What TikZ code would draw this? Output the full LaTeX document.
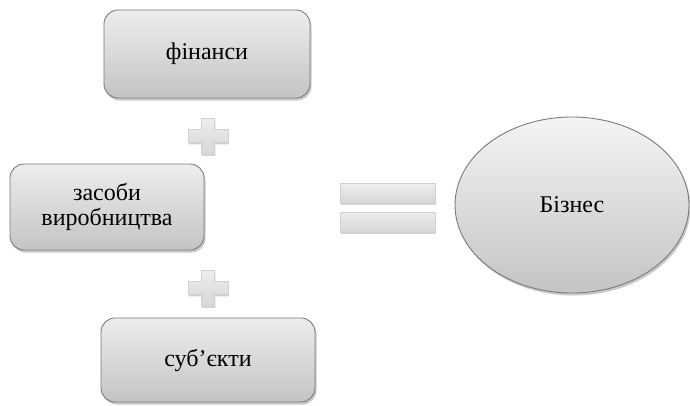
\documentclass[tikz,border=0pt]{standalone}
\usepackage{fontspec}
\setmainfont{Liberation Serif}
\newfontfamily\tnr{Liberation Serif}
\usetikzlibrary{shapes.geometric,shadows}
\definecolor{boxtop}{HTML}{EDEDED}
\definecolor{boxbot}{HTML}{C4C4C4}
\definecolor{boxline}{HTML}{7A7A7A}
\definecolor{signtop}{HTML}{EEEEEE}
\definecolor{signbot}{HTML}{D6D6D6}
\definecolor{txt}{HTML}{000000}
\tikzset{
  grbox/.style={draw=boxline, line width=0.9pt, rounded corners=14pt,
    top color=boxtop, bottom color=boxbot,
    drop shadow={shadow xshift=1.5pt, shadow yshift=-2.5pt, opacity=0.35, fill=black!60},
    font=\tnr\fontsize{24}{25}\selectfont, text=txt, align=center, inner sep=0pt},
  grell/.style={draw=boxline, line width=0.9pt, ellipse,
    top color=boxtop!60!white, bottom color=boxbot,
    drop shadow={shadow xshift=1.5pt, shadow yshift=-2.5pt, opacity=0.35, fill=black!60},
    font=\tnr\fontsize{24}{25}\selectfont, text=txt, inner sep=0pt},
  signfill/.style={top color=signtop, bottom color=signbot, draw=white!82!black, line width=0.4pt,
    drop shadow={shadow xshift=0.8pt, shadow yshift=-1.8pt, opacity=0.35, fill=black!50}},
  pics/plussign/.style={code={
    \path[signfill] (-20,-6.5) -- (-6.5,-6.5) -- (-6.5,-18) -- (6.5,-18) -- (6.5,-6.5)
      -- (20,-6.5) -- (20,6.5) -- (6.5,6.5) -- (6.5,18) -- (-6.5,18) -- (-6.5,6.5)
      -- (-20,6.5) -- cycle;
  }}
}
\begin{document}
\begin{tikzpicture}[x=1pt,y=-1pt]
\useasboundingbox[fill=white] (0,0) rectangle (690,405);
\node[grbox, minimum width=206pt, minimum height=88pt] (fin) at (207,54) {фінанси};
\node[grbox, minimum width=194pt, minimum height=86pt] (zas) at (107,207) {засоби\\виробництва};
\node[grbox, minimum width=214pt, minimum height=84pt] (sub) at (208,360) {суб’єкти};
\node[grell, minimum width=234pt, minimum height=176pt] (biz) at (572,205) {Бізнес};
\pic at (208,136) {plussign};
\pic at (208,288) {plussign};
\path[signfill] (340,183) rectangle (435,203);
\path[signfill] (340,212) rectangle (435,232);
\end{tikzpicture}
\end{document}
